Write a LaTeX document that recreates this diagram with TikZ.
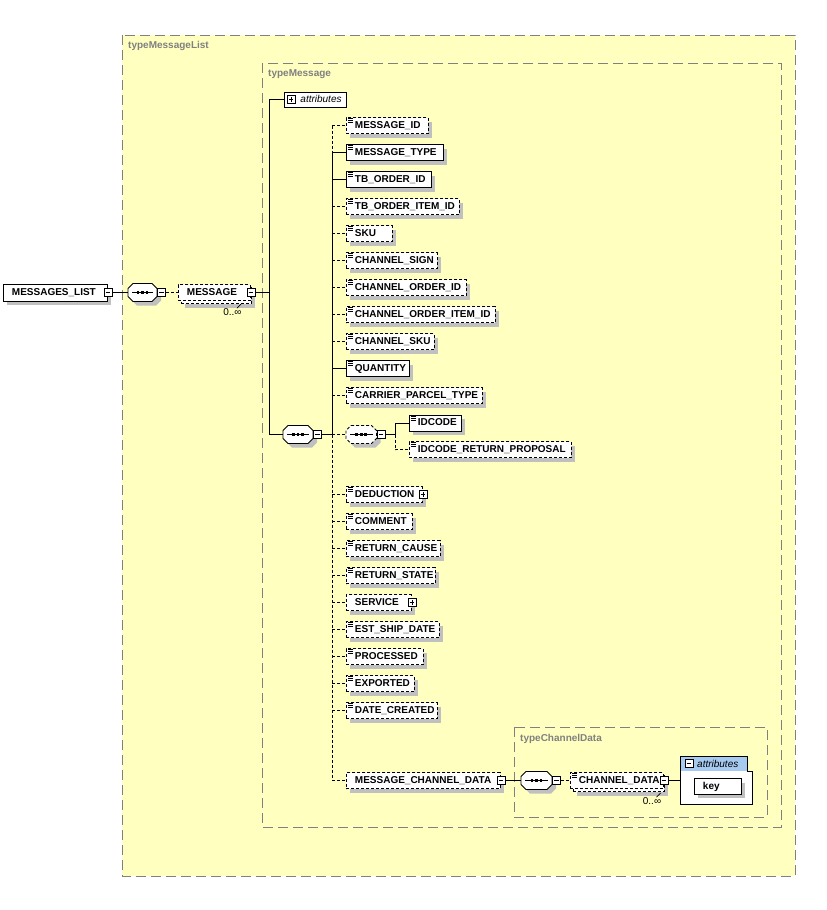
\documentclass[tikz,border=0pt]{standalone}
\usepackage{fontspec}
\setmainfont{Liberation Sans}
\usetikzlibrary{shadows}
\definecolor{bgy}{RGB}{255,255,192}
\definecolor{frame}{RGB}{128,128,128}
\definecolor{shadowgray}{RGB}{192,192,192}
\definecolor{attblue}{RGB}{166,202,240}
\newcommand\myel{\bfseries\fontsize{10}{12}\selectfont}
\newcommand\mylbl{\bfseries\fontsize{10}{12}\selectfont}
\newcommand\myit{\itshape\fontsize{10}{12}\selectfont}
\newcommand\myocc{\fontsize{10}{12}\selectfont}
\tikzset{
  elbox/.style={draw=black, line width=0.9pt, fill=white, anchor=west, inner xsep=0pt, inner ysep=0pt,
    minimum height=16pt, align=left, text height=7.5pt, text depth=2pt, font=\myel},
  shad/.style={drop shadow={shadow xshift=4pt, shadow yshift=-4pt, fill=shadowgray, opacity=1}},
  optb/.style={dash pattern=on 3pt off 2pt},
  rq/.style={line width=0.9pt},
  oc/.style={line width=0.9pt, dash pattern=on 3pt off 2pt},
  typebox/.style={draw=frame, line width=1pt, dash pattern=on 10pt off 5pt},
  typelabel/.style={anchor=west, text=frame, font=\mylbl, inner sep=0pt},
  togbox/.style={draw=black, fill=white, line width=0.8pt, minimum size=8pt, inner sep=0pt},
  occ/.style={font=\myocc, inner sep=0pt}
}
% element: name, x, y, width, style, text
\newcommand\elem[6]{\node[elbox,shad,#5,minimum width=#4pt,text width=#4pt] (#1) at (#2,#3) {\hspace*{8.5pt}#6};}
\newcommand\icon[1]{\foreach \k in {1.5,3.5,5.5}{\draw[line width=0.7pt] ([xshift=2pt,yshift=-\k*1pt]#1.north west) -- ++(5pt,0pt);}}
\newcommand\togm[2]{\node[togbox] (#1) at (#2) {}; \draw[line width=0.8pt] ([xshift=-2.2pt]#1.center) -- ([xshift=2.2pt]#1.center);}
\newcommand\togp[2]{\togm{#1}{#2}\draw[line width=0.8pt] ([yshift=-2.2pt]#1.center) -- ([yshift=2.2pt]#1.center);}
% octagon compositor: name, x, y, width, style
\newcommand\octa[5]{%
  \fill[shadowgray] (#2+9,#3-5) -- (#2+#4-1,#3-5) -- (#2+#4+4,#3) -- (#2+#4+4,#3+8) -- (#2+#4-1,#3+13) -- (#2+9,#3+13) -- (#2+4,#3+8) -- (#2+4,#3) -- cycle;
  \draw[fill=white,line width=0.9pt,#5] (#2+5,#3-9) -- (#2+#4-5,#3-9) -- (#2+#4,#3-4) -- (#2+#4,#3+4) -- (#2+#4-5,#3+9) -- (#2+5,#3+9) -- (#2,#3+4) -- (#2,#3-4) -- cycle;
  \node[inner sep=0pt, minimum width=#4pt, minimum height=18pt, anchor=west] (#1) at (#2,#3) {};
  \draw[line width=0.9pt] (#2+4,#3) -- (#2+#4-4,#3);
  \foreach \d in {-4.5,0,4.5}{\fill (#2+#4/2+\d-1.3,#3-1.3) rectangle ++(2.6,2.6);}
}
\begin{document}
\begin{tikzpicture}[x=1pt,y=-1pt]
\useasboundingbox (0,0) rectangle (827,910);
\fill[white] (0,0) rectangle (827,910);
% type containers
\draw[typebox, fill=bgy] (122,35) rectangle (795,876);
\draw[typebox] (262,63) rectangle (781,827);
\draw[typebox] (514,727) rectangle (767,817);
\node[typelabel] (lblA) at (128,46) {typeMessageList};
\node[typelabel] (lblB) at (268,74) {typeMessage};
\node[typelabel] (lblC) at (520,739) {typeChannelData};

% MESSAGES_LIST
\elem{ml}{3}{292.5}{104}{minimum height=17pt}{MESSAGES\_LIST}
\togm{mlT}{ml.east}
\octa{sq1}{128}{292.5}{29}{}
\togm{sq1T}{161.5,292.5}
% MESSAGE (repeating)
\node[elbox,shad,optb,minimum width=70pt,text width=70pt] (msgB) at (181,295.5) {};
\node[elbox,optb,minimum width=72pt,text width=72pt] (msg) at (178,292.5) {\hspace*{8.5pt}MESSAGE};
\togm{msgT}{msg.east}
\node[occ] (msgO) at (232.5,312) {0..∞};
\draw[line width=0.7pt] ([shift={(4.5pt,4pt)}]msgO.center) -- ++(4pt,4pt);
\draw[rq] (mlT.east) -- (sq1.west);
\draw[oc] (sq1T.east) -- (msg.west);

% attributes + main sequence
\node[elbox,minimum width=62pt,text width=62pt,minimum height=15pt,font=\myit] (attr) at (284,99.5) {\hspace*{16pt}attributes};
\togp{attrT}{291,99.5}
\octa{sq2}{283}{434.5}{30}{}
\togm{sq2T}{317.5,434.5}
\coordinate (busA) at (269,292.5);
\draw[rq] (msgT.east) -- (busA);
\draw[rq] (attr.west -| busA) -- (sq2.west -| busA);
\draw[rq] (attr.west -| busA) -- (attr.west);
\draw[rq] (sq2.west -| busA) -- (sq2.west);

% sequence children
\elem{e0}{346}{125.5}{82}{optb}{MESSAGE\_ID}
\elem{e1}{346}{152.5}{97}{}{MESSAGE\_TYPE}
\elem{e2}{346}{179.5}{85}{}{TB\_ORDER\_ID}
\elem{e3}{346}{206.5}{113}{optb}{TB\_ORDER\_ITEM\_ID}
\elem{e4}{346}{233.5}{46}{optb}{SKU}
\elem{e5}{346}{260.5}{91}{optb}{CHANNEL\_SIGN}
\elem{e6}{346}{287.5}{120}{optb}{CHANNEL\_ORDER\_ID}
\elem{e7}{346}{314.5}{149}{optb}{CHANNEL\_ORDER\_ITEM\_ID}
\elem{e8}{346}{341.5}{88}{optb}{CHANNEL\_SKU}
\elem{e9}{346}{368.5}{63}{}{QUANTITY}
\elem{e10}{346}{395.5}{136}{optb}{CARRIER\_PARCEL\_TYPE}
\foreach \n in {e0,e1,e2,e3,e4,e5,e6,e7,e8,e9,e10}{\icon{\n}}

\octa{sqo}{346}{434.5}{30.5}{optb}
\togm{sqoT}{381,434.5}
\elem{idc}{409}{423}{52}{}{IDCODE}
\elem{idr}{409}{449.5}{162}{optb}{IDCODE\_RETURN\_PROPOSAL}
\icon{idc}\icon{idr}

\elem{f0}{346}{494.5}{76}{optb}{DEDUCTION}
\togp{f0T}{f0.east}
\elem{f1}{346}{521.5}{66}{optb}{COMMENT}
\elem{f2}{346}{548.5}{94}{optb}{RETURN\_CAUSE}
\elem{f3}{346}{575.5}{89}{optb}{RETURN\_STATE}
\elem{f4}{346}{602.5}{65}{optb}{SERVICE}
\togp{f4T}{f4.east}
\elem{f5}{346}{629.5}{93}{optb}{EST\_SHIP\_DATE}
\elem{f6}{346}{656.5}{77}{optb}{PROCESSED}
\elem{f7}{346}{683.5}{68}{optb}{EXPORTED}
\elem{f8}{346}{710.5}{91}{optb}{DATE\_CREATED}
\foreach \n in {f0,f1,f2,f3,f5,f6,f7,f8}{\icon{\n}}
\elem{mcd}{346}{780.5}{154}{optb}{MESSAGE\_CHANNEL\_DATA}
\togm{mcdT}{mcd.east}

% bus of the main sequence
\coordinate (busB) at (332,434.5);
\draw[rq] (sq2T.east) -- (busB);
\draw[oc] (e0.west -| busB) -- (e1.west -| busB);
\draw[rq] (e1.west -| busB) -- (busB);
\draw[oc] (busB) -- (mcd.west -| busB);
\foreach \n in {e1,e2,e9}{\draw[rq] (\n.west -| busB) -- (\n.west);}
\foreach \n in {e0,e3,e4,e5,e6,e7,e8,e10,f0,f1,f2,f3,f4,f5,f6,f7,f8,mcd}{\draw[oc] (\n.west -| busB) -- (\n.west);}
\draw[oc] (busB) -- (sqo.west);
% optional inner sequence
\coordinate (busC) at (395,434.5);
\draw[rq] (sqoT.east) -- (busC);
\draw[rq] (busC) -- (idc.west -| busC) -- (idc.west);
\draw[oc] (busC) -- (idr.west -| busC) -- (idr.west);

% channel data
\octa{sq3}{521}{780.5}{31}{}
\togm{sq3T}{556.5,780.5}
\node[elbox,shad,optb,minimum width=91pt,text width=91pt] (cdB) at (573,783.5) {};
\node[elbox,optb,minimum width=93pt,text width=93pt] (cd) at (570,780.5) {\hspace*{8.5pt}CHANNEL\_DATA};
\icon{cd}
\togm{cdT}{cd.east}
\node[occ] (cdO) at (652,801) {0..∞};
\draw[line width=0.7pt] ([shift={(4.5pt,4pt)}]cdO.center) -- ++(4pt,4pt);
\draw[rq] (mcdT.east) -- (sq3.west);
\draw[oc] (sq3T.east) -- (cd.west);

% attribute group
\fill[attblue] (680.5,756) rectangle (747,771);
\fill[white] (680.5,771) rectangle (752,804);
\draw[line width=0.9pt] (680.5,756) -- (747,756) -- (747,771) -- (752,771) -- (752,804) -- (680.5,804) -- cycle;
\node[inner sep=0pt, minimum width=71.5pt, minimum height=48pt, anchor=north west] (attbox) at (680.5,756) {};
\togm{att2T}{689,763.5}
\node[anchor=west, font=\myit, inner sep=0pt] (att2L) at (697,763.5) {attributes};
\elem{key}{694}{786.5}{47}{minimum height=15.5pt}{key}
\draw[rq] (cdT.east) -- (cdT.east -| attbox.west);
\end{tikzpicture}
\end{document}
